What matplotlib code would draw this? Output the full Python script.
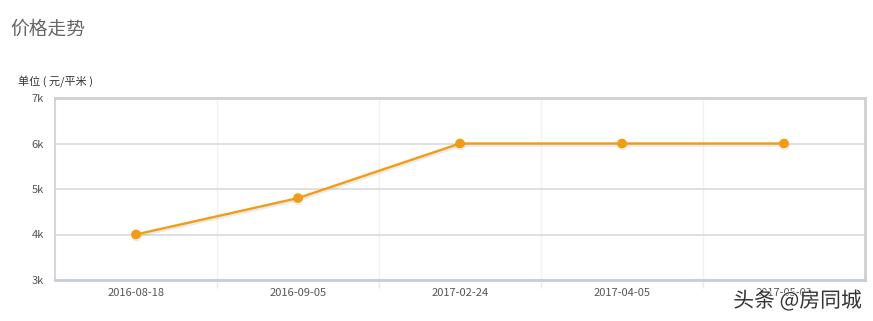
import matplotlib
matplotlib.use("Agg")
import matplotlib.pyplot as plt
import matplotlib.patheffects as pe

plt.rcParams['font.family'] = ['Noto Sans CJK SC', 'DejaVu Sans']

dates = ["2016-08-18", "2016-09-05", "2017-02-24", "2017-04-05", "2017-05-03"]
prices = [4000, 4800, 6000, 6000, 6000]
yticks = [3000, 4000, 5000, 6000, 7000]
ytick_labels = ["3k", "4k", "5k", "6k", "7k"]

fig = plt.figure(figsize=(8.73, 3.21), dpi=100)
ax = fig.add_axes([55/873, 1-280/321, 810/873, 182/321])

x = list(range(len(dates)))
ax.plot(x, prices, color="#F39C12", lw=1.7, marker="o", ms=6, zorder=5,
        path_effects=[pe.SimpleLineShadow(offset=(0.5, -1.5), shadow_color="#999999", alpha=0.2),
                      pe.Normal()])

ax.set_xlim(-0.5, len(dates) - 0.5)
ax.set_ylim(3000, 7000)
ax.set_yticks(yticks)
ax.set_yticklabels(ytick_labels)
ax.set_xticks(x)
ax.set_xticklabels(dates)
ax.set_xticks([i + 0.5 for i in range(len(dates) - 1)], minor=True)

ax.tick_params(axis="x", which="major", length=0, pad=6, labelsize=8, labelcolor="#555555")
ax.tick_params(axis="x", which="minor", length=6, width=1, color="#e6e9ee", direction="out")
ax.tick_params(axis="y", length=0, pad=8, labelsize=8, labelcolor="#555555")

ax.grid(axis="y", which="major", color="#dddddd", lw=1.3)
ax.grid(axis="x", which="minor", color="#f0f1f4", lw=1)
ax.set_axisbelow(True)

for s in ["top", "right"]:
    ax.spines[s].set_color("#d0d0d0")
    ax.spines[s].set_linewidth(2)
ax.spines["left"].set_color("#d6d6d6")
ax.spines["left"].set_linewidth(1.5)
ax.spines["bottom"].set_color("#c8ced6")
ax.spines["bottom"].set_linewidth(2)

fig.text(10/873, 1-29/321, "价格走势", fontsize=13.5, color="#666666", va="center", ha="left")
fig.text(18/873, 1-82/321, "单位 ( 元/平米 )", fontsize=8, color="#333333", va="center", ha="left")
fig.text(862/873, 1-301/321, "头条 @房同城", fontsize=15, color="#333333", va="center", ha="right",
         path_effects=[pe.withStroke(linewidth=1.2, foreground="white")])

fig.savefig("out.png", dpi=100)
